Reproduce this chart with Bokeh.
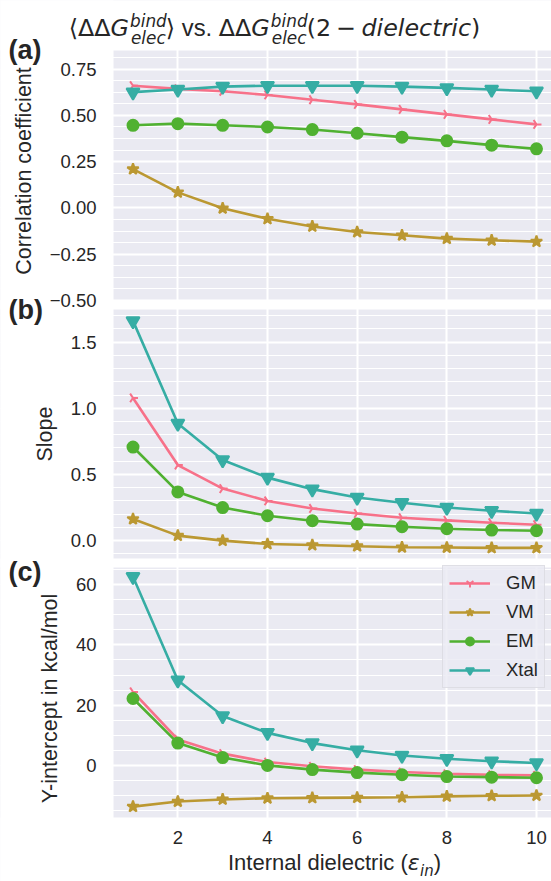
import numpy as np
from bokeh.plotting import figure
from bokeh.models import (SingleIntervalTicker, CustomJSTickFormatter, Label, LinearAxis,
                          Grid, BoxAnnotation, Legend, LegendItem, Range1d)
from bokeh.embed import file_html
from bokeh.resources import INLINE

# ---------------- data ----------------
eps = [1, 2, 3, 4, 5, 6, 7, 8, 9, 10]
series_names = ["GM", "VM", "EM", "Xtal"]

corr_GM = [0.660, 0.643, 0.630, 0.610, 0.584, 0.559, 0.532, 0.505, 0.478, 0.451]
corr_VM = [0.209, 0.084, -0.002, -0.059, -0.100, -0.130, -0.148, -0.166, -0.175, -0.182]
corr_EM = [0.446, 0.455, 0.446, 0.437, 0.423, 0.403, 0.382, 0.362, 0.339, 0.319]
corr_Xtal = [0.625, 0.639, 0.655, 0.660, 0.660, 0.660, 0.655, 0.648, 0.639, 0.630]

slope_GM = [1.078, 0.571, 0.393, 0.300, 0.243, 0.205, 0.173, 0.153, 0.135, 0.120]
slope_VM = [0.163, 0.038, 0.000, -0.025, -0.033, -0.042, -0.050, -0.052, -0.055, -0.055]
slope_EM = [0.707, 0.368, 0.250, 0.188, 0.150, 0.125, 0.105, 0.090, 0.080, 0.075]
slope_Xtal = [1.660, 0.885, 0.609, 0.476, 0.389, 0.326, 0.286, 0.250, 0.226, 0.205]

icpt_GM = [24.4, 8.6, 3.9, 1.1, -0.3, -1.4, -2.2, -2.8, -3.1, -3.3]
icpt_VM = [-13.7, -12.0, -11.3, -10.9, -10.8, -10.7, -10.6, -10.3, -10.1, -10.0]
icpt_EM = [22.2, 7.4, 2.6, 0.0, -1.4, -2.4, -3.1, -3.7, -3.9, -4.1]
icpt_Xtal = [62.6, 28.3, 16.4, 10.8, 7.4, 5.0, 3.3, 2.2, 1.4, 0.8]

ylabels = ["Correlation coefficient", "Slope", "Y-intercept in kcal/mol"]
panel_tags = ["(a)", "(b)", "(c)"]

# ---------------- style ----------------
colors = {"GM": "#f77189", "VM": "#bb9832", "EM": "#50b131", "Xtal": "#36ada4"}
marker_style = {
    "GM": dict(marker="y", size=10, angle=np.pi / 2),
    "VM": dict(marker="star", size=12, angle=0.0),
    "EM": dict(marker="circle", size=11, angle=0.0),
    "Xtal": dict(marker="inverted_triangle", size=13, angle=0.0),
}
TXT = "#262626"
SANS = "Liberation Sans"
MATH = "DejaVu Sans"
BG = "#eaeaf2"

W, H = 551, 881
LEFT = 113                      # left edge of the plotting areas (px)
X0, X1 = 0.565, 10.335          # x data at LEFT and at the right edge
XSTART = X0 - LEFT * (X1 - X0) / (W - LEFT)

# panel specs: key, y-limits, band (top px, bottom px), tick interval, minor, decimals,
#              axis bounds (used to centre the axis label), series
panels = [
    ("a", (-0.5, 0.85), (50, 300), 0.25, 4, 2, (-0.5, 0.899),
     {"GM": corr_GM, "VM": corr_VM, "EM": corr_EM, "Xtal": corr_Xtal}),
    ("b", (-0.135, 1.746), (309, 558), 0.5, 5, 1, (-0.135, 1.746),
     {"GM": slope_GM, "VM": slope_VM, "EM": slope_EM, "Xtal": slope_Xtal}),
    ("c", (-17.3, 65.7), (567, 817), 20, 4, 0, (-17.3, 61.7),
     {"GM": icpt_GM, "VM": icpt_VM, "EM": icpt_EM, "Xtal": icpt_Xtal}),
]


def band_range(ylim, band):
    ymin, ymax = ylim
    top, bottom = band
    k = (ymax - ymin) / (bottom - top)
    return Range1d(ymin - (H - bottom) * k, ymax + top * k)


# whole page is one frame; default y range == page pixel row (0 at top)
p = figure(width=W, height=H, output_backend="svg", toolbar_location=None,
           x_range=Range1d(XSTART, X1), y_range=Range1d(H, 0),
           x_axis_type=None, y_axis_type=None,
           min_border_left=0, min_border_right=0, min_border_top=0, min_border_bottom=0)
p.title.visible = False
p.background_fill_color = BG
p.border_fill_color = "white"
p.outline_line_color = None
p.extra_x_ranges = {"px": Range1d(0, W)}
p.extra_y_ranges = {pn[0]: band_range(pn[1], pn[2]) for pn in panels}


def style_axis(ax):
    ax.axis_line_color = None
    ax.major_tick_line_color = None
    ax.minor_tick_line_color = None
    ax.major_tick_out = 0
    ax.major_tick_in = 0
    ax.minor_tick_out = 0
    ax.minor_tick_in = 0
    ax.major_label_text_font = SANS
    ax.major_label_text_font_size = "18.5px"
    ax.major_label_text_color = TXT
    ax.axis_label_text_font = SANS
    ax.axis_label_text_font_size = "21.5px"
    ax.axis_label_text_font_style = "normal"
    ax.axis_label_text_color = TXT


# vertical grid (shared x)
xticker = SingleIntervalTicker(interval=2, num_minor_ticks=0)
p.add_layout(Grid(dimension=0, ticker=xticker, bounds=(X0, X1),
                  grid_line_color="white", grid_line_width=2), "center")

legend_items = []
for i, (key, ylim, band, interval, minor, dec, abounds, series) in enumerate(panels):
    yt = SingleIntervalTicker(interval=interval, num_minor_ticks=minor)
    p.add_layout(Grid(dimension=1, ticker=yt, y_range_name=key, bounds=ylim,
                      grid_line_color="white", grid_line_width=2,
                      minor_grid_line_color="white", minor_grid_line_width=1), "center")
    ax = LinearAxis(y_range_name=key, ticker=yt, fixed_location=X0, bounds=abounds,
                    axis_label=ylabels[i],
                    formatter=CustomJSTickFormatter(
                        code="return tick.toFixed(%d).replace('-', '\u2212');" % dec))
    style_axis(ax)
    ax.major_label_standoff = 17
    ax.axis_label_standoff = 11
    p.add_layout(ax, "left")

    for name in series_names:
        c = colors[name]
        ms = marker_style[name]
        lr = p.line(eps, series[name], y_range_name=key, line_color=c, line_width=2.6)
        sr = p.scatter(eps, series[name], y_range_name=key, marker=ms["marker"],
                       size=ms["size"], angle=ms["angle"], fill_color=c, line_color=c,
                       line_width=2)
        if key == "c":
            legend_items.append(LegendItem(label=name, renderers=[lr, sr]))

# bottom x axis (tick labels only)
xax = LinearAxis(y_range_name="c", ticker=xticker, fixed_location=panels[2][1][0],
                 bounds=(X0, X1))
style_axis(xax)
xax.major_label_standoff = 13
p.add_layout(xax, "below")


# white masks outside the three plotting areas (drawn above the grids)
def mask(left, right, top, bottom):
    p.add_layout(BoxAnnotation(left=left, right=right, top=top, bottom=bottom,
                               x_range_name="px", fill_color="white", fill_alpha=1.0,
                               line_color=None, level="underlay"), "center")


mask(-10, LEFT, -10, H + 10)
mask(-10, W + 10, -10, panels[0][2][0])
mask(-10, W + 10, panels[0][2][1], panels[1][2][0])
mask(-10, W + 10, panels[1][2][1], panels[2][2][0])
mask(-10, W + 10, panels[2][2][1], H + 10)

# ---------------- legend ----------------
legend = Legend(items=legend_items, location=(442, H - 688))
legend.label_text_font = SANS
legend.label_text_font_size = "18.5px"
legend.label_text_color = TXT
legend.glyph_width = 41
legend.glyph_height = 20
legend.label_height = 20
legend.label_standoff = 16
legend.spacing = 7
legend.padding = 6
legend.margin = 0
legend.background_fill_color = BG
legend.background_fill_alpha = 0.8
legend.border_line_color = "#cfcfd6"
legend.border_line_width = 1.2
p.add_layout(legend)


# ---------------- free texts (page pixel coordinates of the baseline) ----------------
def add_text(px, py, text, font=SANS, size=22, style="normal"):
    p.add_layout(Label(x=px, y=py - 0.46 * size, x_range_name="px", text=text,
                       text_font=font, text_font_size="%.1fpx" % size,
                       text_font_style=style, text_color=TXT, text_align="left",
                       text_baseline="alphabetic"))


S, s = 23.8, 16.9
base = 38
w = {"⟨": .39, "⟩": .39, "Δ": .684, "G": .775, "(": .39, ")": .39, "2": .636, "−": .838}
dej = {"b": .635, "i": .278, "n": .634, "d": .635, "e": .615, "l": .278, "c": .550,
       "t": .392, "r": .411}


def dwidth(t, size):
    return sum(dej.get(ch, w.get(ch, .6)) for ch in t) * size


runs = [("⟨", "normal"), ("ΔΔ", "normal"), ("G", "italic"), ("SCR", None), ("⟩", "normal"),
        ("VS", None), ("ΔΔ", "normal"), ("G", "italic"), ("SCR", None), ("(2", "normal"),
        ("MINUS", None), ("dielectric", "italic"), (")", "normal")]
vs_w = (0.278 + 1.278 + 0.278) * S
scr_w = max(dwidth("bind", s), dwidth("elec", s))
minus_w = (0.22 + 0.838 + 0.22) * S
total = 0
for t, st in runs:
    total += scr_w if t == "SCR" else vs_w if t == "VS" else minus_w if t == "MINUS" else dwidth(t, S)
x = 274 - total / 2
for t, st in runs:
    if t == "SCR":
        add_text(x + 1, base - 10, "bind", MATH, s, "italic")
        add_text(x + 2, base + 7, "elec", MATH, s, "italic")
        x += scr_w
    elif t == "VS":
        add_text(x + 0.278 * S, base, "vs.", SANS, S)
        x += vs_w
    elif t == "MINUS":
        add_text(x + 0.22 * S, base, "−", MATH, S)
        x += minus_w
    else:
        add_text(x, base, t, MATH, S, st)
        x += dwidth(t, S)

# panel tags
add_text(8, 62, panel_tags[0], SANS, 27, "bold")
add_text(8, 322, panel_tags[1], SANS, 27, "bold")
add_text(8, 584, panel_tags[2], SANS, 27, "bold")

# x-axis label with subscript
xl_main = "Internal dielectric ("
xl_w = 8.169 * 22
eps_w = 0.56 * 22
in_w = 0.912 * 15
close_w = 0.333 * 22
xs = 334 - (xl_w + eps_w + in_w + close_w) / 2
yb = 872
add_text(xs, yb, xl_main, SANS, 22)
add_text(xs + xl_w, yb, "ε", MATH, 22, "italic")
add_text(xs + xl_w + eps_w, yb + 5, "in", MATH, 15, "italic")
add_text(xs + xl_w + eps_w + in_w, yb, ")", SANS, 22)

open("out.html", "w").write(file_html(p, INLINE, title="plot"))
